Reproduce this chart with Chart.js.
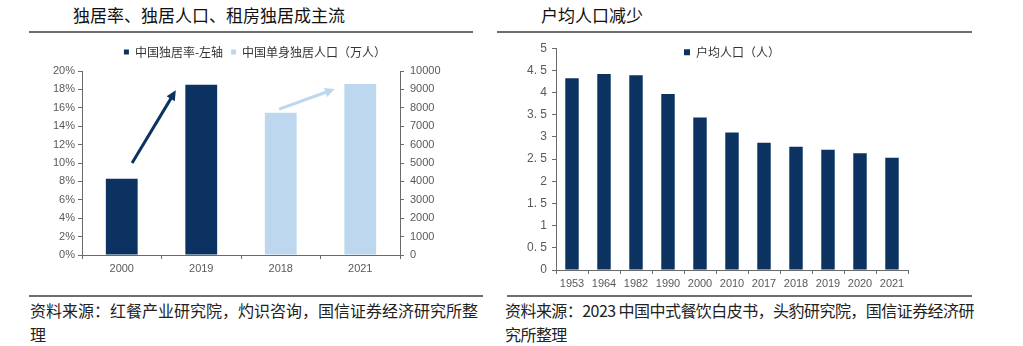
<!DOCTYPE html>
<html>
<head>
<meta charset="utf-8">
<script src="https://cdn.jsdelivr.net/npm/chart.js@4"></script>
<style>
  html, body { margin: 0; padding: 0; background: #fff; }
  body { width: 1023px; height: 346px; position: relative; overflow: hidden; font-family: "Noto Sans CJK SC", sans-serif; }
  .title { position: absolute; top: 3px; font-size: 17px; line-height: 24px; color: #111; white-space: nowrap; }
  .rule { position: absolute; height: 2px; background: #6e6e6e; }
  .note { position: absolute; top: 298px; font-size: 16px; line-height: 24px; color: #222; white-space: nowrap; }
  canvas { position: absolute; }
</style>
</head>
<body>

<div class="title" style="left:73px">独居率、独居人口、租房独居成主流</div>
<div class="title" style="left:541px">户均人口减少</div>
<div class="rule" style="left:29px; width:444px; top:31px"></div>
<div class="rule" style="left:497px; width:475px; top:31px"></div>

<canvas id="leftChart" width="450" height="240" style="left:30px; top:38px"></canvas>
<canvas id="rightChart" width="467" height="255" style="left:505px; top:36px"></canvas>

<div class="rule" style="left:29px; width:454px; top:295px"></div>
<div class="rule" style="left:507px; width:465px; top:295px"></div>
<div class="note" style="left:30px">资料来源：红餐产业研究院，灼识咨询，国信证券经济研究所整<br>理</div>
<div class="note" style="left:505px; letter-spacing:-0.55px">资料来源：2023 中国中式餐饮白皮书，头豹研究院，国信证券经济研<br>究所整理</div>

<script>
// === DATA ===
var soloCats = ['2000', '2019', '2018', '2021'];
var soloRate = [8.3, 18.5, null, null];          // %, left axis
var soloPop = [null, null, 7730, 9300];          // 万人, right axis
var soloLabels = ['中国独居率-左轴', '中国单身独居人口（万人）'];

// trend arrows (category index, axis value)
var darkArrowX = [0.13, 0.68];
var darkArrowY = [10, 17.9];
var lightArrowX = [1.98, 2.68];
var lightArrowY = [7930, 9020];

var hhCats = ['1953', '1964', '1982', '1990', '2000', '2010', '2017', '2018', '2019', '2020', '2021'];
var hhSize = [4.32, 4.42, 4.39, 3.97, 3.44, 3.10, 2.87, 2.78, 2.71, 2.63, 2.53];
var hhLabel = '户均人口（人）';

var NAVY = '#0b3260';
var LIGHT = '#bdd7ee';
var AXIS = '#6a6a6a';
var TICK = '#595959';
var NUM_FONT = 'Liberation Sans, Arial, sans-serif';
var CJK_FONT = 'Noto Sans CJK SC, sans-serif';

// legend sits in a fixed band above the plot; with height 0 it floats over the plot
var legendBand = {
  id: 'legendBand',
  beforeLayout: function(chart, args, opts) {
    var lg = chart.legend;
    if (!lg || lg._bandFixed || opts.height == null) return;
    var fit = lg.fit;
    lg.fit = function() { fit.call(this); this.height = opts.height; };
    lg._bandFixed = true;
  },
  afterLayout: function(chart, args, opts) {
    var lg = chart.legend;
    if (!lg) return;
    if (opts.centerOnPlot) {
      var shift = (chart.chartArea.left + chart.chartArea.right) / 2 - (lg.left + lg.right) / 2;
      lg.left += shift;
      lg.right += shift;
    }
    if (opts.floatHeight) {
      // legend clips to its own box, so open it up once the plot is laid out
      lg.top += opts.offsetY || 0;
      lg.bottom = lg.top + opts.floatHeight;
      lg.height = opts.floatHeight;
    }
  }
};

function drawArrow(ctx, x0, y0, x1, y1, color, width, head) {
  var ang = Math.atan2(y1 - y0, x1 - x0);
  var bx = x1 - Math.cos(ang) * head * 0.8;
  var by = y1 - Math.sin(ang) * head * 0.8;
  ctx.save();
  ctx.strokeStyle = color;
  ctx.fillStyle = color;
  ctx.lineWidth = width;
  ctx.beginPath();
  ctx.moveTo(x0, y0);
  ctx.lineTo(bx, by);
  ctx.stroke();
  ctx.beginPath();
  ctx.moveTo(x1, y1);
  ctx.lineTo(x1 - head * Math.cos(ang - 0.45), y1 - head * Math.sin(ang - 0.45));
  ctx.lineTo(x1 - head * Math.cos(ang + 0.45), y1 - head * Math.sin(ang + 0.45));
  ctx.closePath();
  ctx.fill();
  ctx.restore();
}

var trendArrows = {
  id: 'trendArrows',
  afterDatasetsDraw: function(chart) {
    var x = chart.scales.x, y = chart.scales.y, y1 = chart.scales.y1;
    drawArrow(chart.ctx,
      x.getPixelForValue(darkArrowX[0]), y.getPixelForValue(darkArrowY[0]),
      x.getPixelForValue(darkArrowX[1]), y.getPixelForValue(darkArrowY[1]),
      NAVY, 3, 11);
    drawArrow(chart.ctx,
      x.getPixelForValue(lightArrowX[0]), y1.getPixelForValue(lightArrowY[0]),
      x.getPixelForValue(lightArrowX[1]), y1.getPixelForValue(lightArrowY[1]),
      LIGHT, 3, 11);
  }
};

function axisGrid() {
  return { display: true, drawOnChartArea: false, drawTicks: true, tickLength: 4, color: AXIS, lineWidth: 1 };
}

// === LEFT: solo living ===
new Chart(document.getElementById('leftChart'), {
  type: 'bar',
  data: {
    labels: soloCats,
    datasets: [
      { label: soloLabels[0], data: soloRate, yAxisID: 'y', backgroundColor: NAVY, skipNull: true,
        barPercentage: 0.4, categoryPercentage: 1 },
      { label: soloLabels[1], data: soloPop, yAxisID: 'y1', backgroundColor: LIGHT, skipNull: true,
        barPercentage: 0.4, categoryPercentage: 1 }
    ]
  },
  options: {
    responsive: false, animation: false, devicePixelRatio: 1,
    layout: { padding: 0 },
    plugins: {
      legendBand: { height: 33 },
      legend: {
        position: 'top',
        labels: { boxWidth: 5, boxHeight: 5, padding: 8, color: '#333', font: { family: CJK_FONT, size: 12 } }
      },
      tooltip: { enabled: false }
    },
    scales: {
      x: {
        grid: axisGrid(), border: { display: true, color: AXIS },
        ticks: { color: TICK, padding: 3, font: { family: NUM_FONT, size: 11 } },
        afterFit: function(s) { s.height = 23; }
      },
      y: {
        position: 'left', min: 0, max: 20,
        grid: axisGrid(), border: { display: true, color: AXIS },
        ticks: { stepSize: 2, color: TICK, padding: 3, font: { family: NUM_FONT, size: 11 },
          callback: function(v) { return v + '%'; } },
        afterFit: function(s) { s.width = 52; }
      },
      y1: {
        position: 'right', min: 0, max: 10000,
        grid: axisGrid(), border: { display: true, color: AXIS },
        ticks: { stepSize: 1000, color: TICK, padding: 6, font: { family: NUM_FONT, size: 11 },
          callback: function(v) { return String(v); } },
        afterFit: function(s) { s.width = 80; }
      }
    }
  },
  plugins: [legendBand, trendArrows]
});

// === RIGHT: household size ===
new Chart(document.getElementById('rightChart'), {
  type: 'bar',
  data: {
    labels: hhCats,
    datasets: [
      { label: hhLabel, data: hhSize, backgroundColor: NAVY, barPercentage: 0.42, categoryPercentage: 1 }
    ]
  },
  options: {
    responsive: false, animation: false, devicePixelRatio: 1,
    layout: { padding: { top: 11, right: 64, left: 0, bottom: 0 } },
    plugins: {
      legendBand: { height: 0, centerOnPlot: true, floatHeight: 20, offsetY: -2 },
      legend: {
        position: 'top',
        labels: { boxWidth: 6, boxHeight: 6, padding: 0, color: '#333', font: { family: CJK_FONT, size: 12 } }
      },
      tooltip: { enabled: false }
    },
    scales: {
      x: {
        grid: axisGrid(), border: { display: true, color: AXIS },
        ticks: { color: TICK, padding: 3, maxRotation: 0, autoSkip: false, font: { family: NUM_FONT, size: 11 } },
        afterFit: function(s) { s.height = 21; }
      },
      y: {
        min: 0, max: 5,
        grid: axisGrid(), border: { display: true, color: AXIS },
        ticks: { stepSize: 0.5, color: TICK, padding: 5, font: { family: NUM_FONT, size: 12 },
          callback: function(v) { return String(v).replace('.', '. '); } },
        afterFit: function(s) { s.width = 51; }
      }
    }
  },
  plugins: [legendBand]
});
</script>
</body>
</html>
